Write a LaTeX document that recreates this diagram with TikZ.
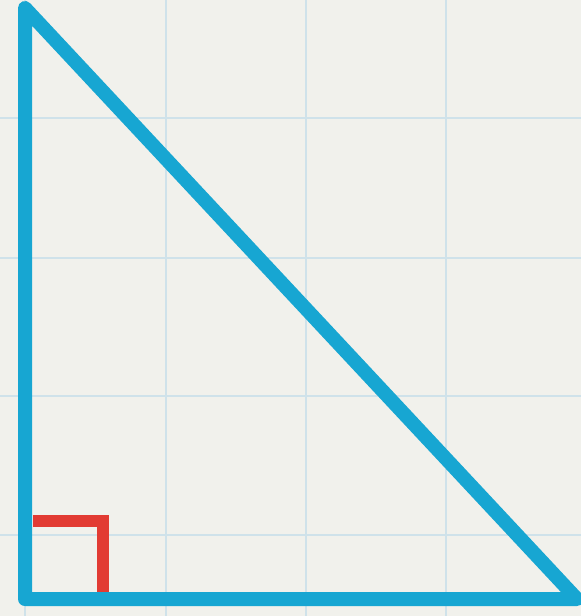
\documentclass[tikz,border=0pt]{standalone}
\definecolor{bgc}{HTML}{F1F1EC}
\definecolor{gridc}{HTML}{CFE2EA}
\definecolor{tric}{HTML}{17A6D2}
\definecolor{markred}{HTML}{E23B33}
\begin{document}
\begin{tikzpicture}[x=1pt,y=-1pt,
  gridline/.style={gridc,line width=2pt},
  side/.style={tric,line width=14pt,line join=round,line cap=round},
  rightmark/.style={markred,line width=12pt,line join=miter}]
\fill[bgc] (0,0) rectangle (581,616);
\useasboundingbox (0,0) rectangle (581,616);
\foreach \x in {25,166,306,446} \draw[gridline] (\x,0) -- (\x,616);
\foreach \y in {118,258,396,535} \draw[gridline] (0,\y) -- (581,\y);
\coordinate (A) at (25,8);
\coordinate (B) at (25,599);
\coordinate (C) at (577,599);
\coordinate (M1) at (33,521);
\coordinate (M2) at (103,521);
\coordinate (M3) at (103,593);
\draw[rightmark] (M1) -- (M2) -- (M3);
\draw[side] (A) -- (B) -- (C) -- cycle;
\end{tikzpicture}
\end{document}
